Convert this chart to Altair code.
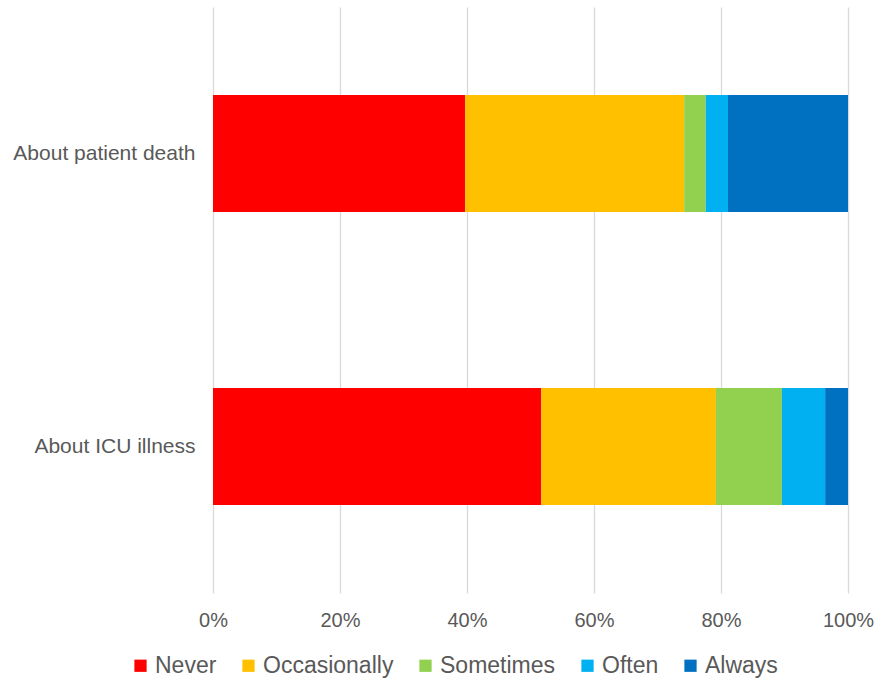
import altair as alt
import pandas as pd

questions = ["About patient death", "About ICU illness"]
responses = ["Never", "Occasionally", "Sometimes", "Often", "Always"]
colors = ["#FF0000", "#FFC000", "#92D050", "#00B0F0", "#0070C0"]
patient_death = [39.7, 34.5, 3.4, 3.5, 18.9]
icu_illness = [51.7, 27.5, 10.4, 6.8, 3.6]

rows = []
for q, vals in zip(questions, [patient_death, icu_illness]):
    for i, (r, v) in enumerate(zip(responses, vals)):
        rows.append({"question": q, "response": r, "value": v, "rank": i})
df = pd.DataFrame(rows)

font = "Liberation Sans"

chart = alt.Chart(df).mark_bar().encode(
    y=alt.Y("question:N", sort=questions, title=None,
            scale=alt.Scale(paddingInner=0.6, paddingOuter=0.3),
            axis=alt.Axis(labelFontSize=21, labelColor="#595959", labelFont=font,
                          labelPadding=18, ticks=False, domain=False, labelLimit=300)),
    x=alt.X("value:Q", stack="normalize", title=None,
            scale=alt.Scale(domain=[0, 1], nice=False),
            axis=alt.Axis(format="%", values=[0, 0.2, 0.4, 0.6, 0.8, 1.0],
                          labelFontSize=20, labelColor="#595959", labelFont=font,
                          labelPadding=17, labelFlush=False, ticks=False, domain=False,
                          grid=True, gridColor="#D9D9D9", gridWidth=1.3)),
    color=alt.Color("response:N", sort=responses,
                    scale=alt.Scale(domain=responses, range=colors),
                    legend=alt.Legend(title=None, orient="none", direction="horizontal",
                                      legendX=-84, legendY=647,
                                      symbolType="square", symbolSize=150,
                                      symbolStrokeWidth=0,
                                      labelFontSize=23, labelColor="#595959",
                                      labelFont=font, columnPadding=20,
                                      labelOffset=3)),
    order=alt.Order("rank:Q"),
).properties(
    width=635, height=586,
    padding={"left": 213, "top": 7, "right": 30, "bottom": 85},
    autosize=alt.AutoSizeParams(type="none"),
).configure_view(stroke=None)

chart.save("out.html", embed_options={"renderer": "svg", "actions": False})
